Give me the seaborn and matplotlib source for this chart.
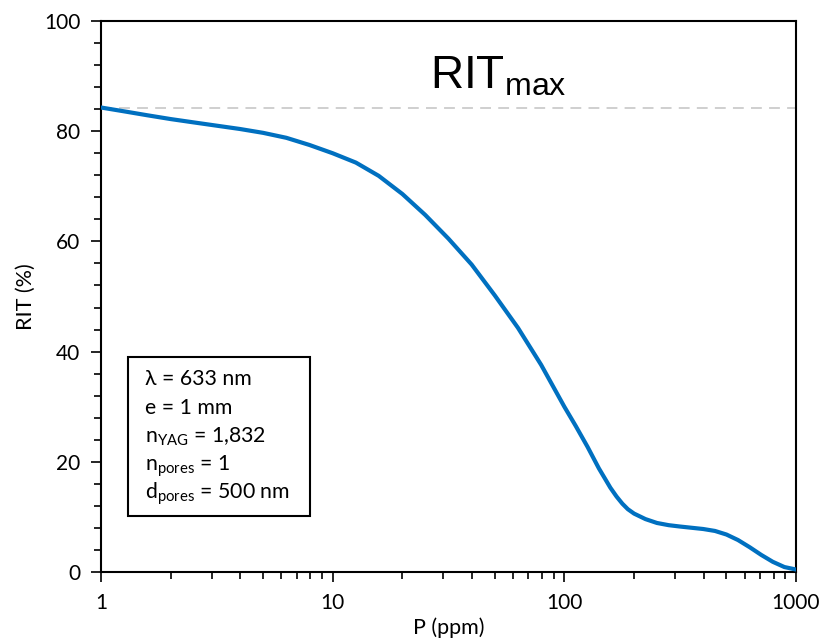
import matplotlib
matplotlib.use("Agg")
import matplotlib.pyplot as plt
from matplotlib.patches import Rectangle
from matplotlib.ticker import FixedLocator, LogLocator, NullFormatter, MultipleLocator
import seaborn as sns
import pandas as pd

# Porosity in ppm vs. real in-line transmission (%)
porosity_ppm = [1, 1.26, 1.58, 2.0, 2.51, 3.16, 3.98, 5.01, 6.31, 7.94,
                10, 12.6, 15.8, 20.0, 25.1, 31.6, 39.8, 50.1, 63.1, 79.4,
                100, 112, 126, 141, 150, 158, 168, 178, 188, 200, 224, 251,
                282, 316, 398, 447, 501, 562, 631, 708, 794, 891, 1000]
rit_percent = [84.3, 83.6, 82.9, 82.2, 81.6, 81.0, 80.4, 79.7, 78.8, 77.5,
               76.0, 74.3, 71.9, 68.6, 64.8, 60.5, 55.8, 50.2, 44.3, 37.6,
               30.0, 26.5, 22.7, 18.8, 16.9, 15.3, 13.7, 12.4, 11.4, 10.6,
               9.6, 8.9, 8.5, 8.25, 7.8, 7.45, 6.8, 5.8, 4.5, 3.1, 1.85,
               0.9, 0.45]
rit_max = 84.3

x_ticks = [1, 10, 100, 1000]
x_tick_labels = ["1", "10", "100", "1000"]
y_ticks = [0, 20, 40, 60, 80, 100]

box_lines = [
    "λ = 633 nm",
    "e = 1 mm",
    r"n$_{\mathrm{YAG}}$ = 1,832",
    r"n$_{\mathrm{pores}}$ = 1",
    r"d$_{\mathrm{pores}}$ = 500 nm",
]

sns.set_theme(style="ticks")
plt.rcParams["font.family"] = ["Lato", "DejaVu Sans"]
plt.rcParams["mathtext.fontset"] = "custom"
plt.rcParams["mathtext.rm"] = "Lato"
plt.rcParams["mathtext.sf"] = "Liberation Sans"

df = pd.DataFrame({"P": porosity_ppm, "RIT": rit_percent})

fig = plt.figure(figsize=(8.29, 6.38), dpi=100)
ax = fig.add_axes([101 / 829, 1 - 572 / 638, 695 / 829, 551 / 638])

ax.axhline(rit_max, color="#cccccc", lw=1.3, ls=(0, (6, 4)), zorder=1)
sns.lineplot(data=df, x="P", y="RIT", ax=ax, color="#0070c0", lw=3,
             zorder=3, estimator=None, sort=False)

ax.set_xscale("log")
ax.set_xlim(1, 1000)
ax.set_ylim(0, 100)
ax.xaxis.set_major_locator(FixedLocator(x_ticks))
ax.set_xticklabels(x_tick_labels)
ax.xaxis.set_minor_locator(LogLocator(base=10, subs=range(2, 10)))
ax.xaxis.set_minor_formatter(NullFormatter())
ax.set_yticks(y_ticks)
ax.yaxis.set_minor_locator(MultipleLocator(4))

for side in ["left", "right", "top", "bottom"]:
    ax.spines[side].set_color("black")
    ax.spines[side].set_linewidth(1.5)

ax.tick_params(axis="both", which="major", direction="out", length=7,
               width=1.2, color="black", labelsize=15, labelcolor="black",
               pad=8)
ax.tick_params(axis="both", which="minor", direction="out", length=5,
               width=1.2, color="black")

ax.set_xlabel("P (ppm)", fontsize=15.5, color="black", labelpad=3)
ax.set_ylabel("RIT (%)", fontsize=15.5, color="black", labelpad=6)

ax.text(0.473, 0.878, r"$\mathsf{RIT}_{\mathsf{max}}$", transform=ax.transAxes,
        fontsize=33, color="black", ha="left", va="baseline")

ax.add_patch(Rectangle((0.0389, 0.1016), 0.2618, 0.2884, transform=ax.transAxes,
                       fill=True, facecolor="white", edgecolor="black",
                       lw=1.5, zorder=4))
baselines = [0.339, 0.287, 0.236, 0.185, 0.134]
for line, yb in zip(box_lines, baselines):
    ax.text(0.0633, yb, line, transform=ax.transAxes, fontsize=15.3,
            color="black", ha="left", va="baseline", zorder=5)

fig.savefig("out.png", dpi=100)
